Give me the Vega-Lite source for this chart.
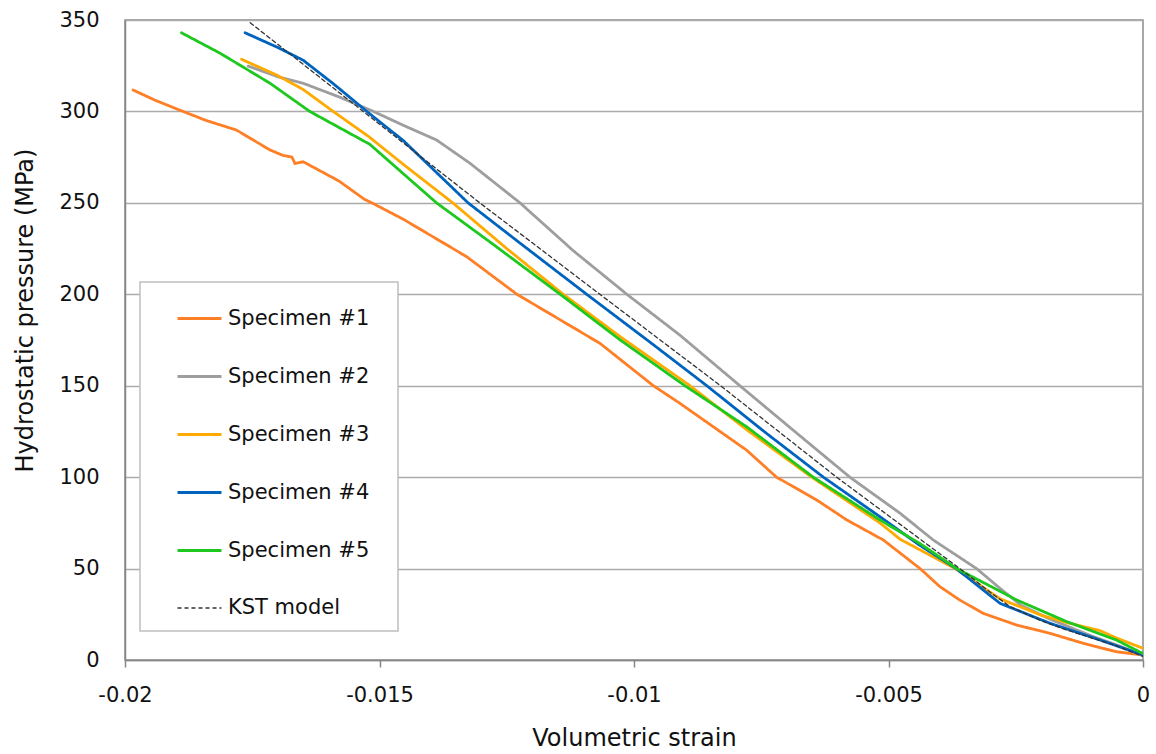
{
  "$schema": "https://vega.github.io/schema/vega-lite/v6.json",
  "autosize": "none",
  "width": 1018,
  "height": 640,
  "padding": {"left": 125, "top": 20, "right": 13, "bottom": 94},
  "background": "white",
  "config": {
    "view": {"stroke": "#8C8C8C", "strokeWidth": 1.5},
    "font": "DejaVu Sans",
    "legend": {
      "orient": "none",
      "legendX": 15,
      "legendY": 262,
      "fillColor": "white",
      "strokeColor": "#BFBFBF",
      "strokeWidth": 1.5,
      "padding": 13,
      "rowPadding": 24,
      "symbolType": "stroke",
      "symbolSize": 1936,
      "symbolStrokeWidth": 2.5,
      "symbolOffset": 23,
      "labelOffset": 5,
      "labelFont": "DejaVu Sans",
      "labelFontSize": 21,
      "labelColor": "#111111",
      "labelLimit": 400
    }
  },
  "data": {
    "values": [
      {"s": "Specimen #1", "x": -0.01984, "y": 311.7},
      {"s": "Specimen #1", "x": -0.0194, "y": 306},
      {"s": "Specimen #1", "x": -0.01886, "y": 300},
      {"s": "Specimen #1", "x": -0.0184, "y": 295},
      {"s": "Specimen #1", "x": -0.01781, "y": 289.8},
      {"s": "Specimen #1", "x": -0.01715, "y": 278.9},
      {"s": "Specimen #1", "x": -0.0169, "y": 276},
      {"s": "Specimen #1", "x": -0.01672, "y": 275},
      {"s": "Specimen #1", "x": -0.01666, "y": 271.5},
      {"s": "Specimen #1", "x": -0.0165, "y": 272.5},
      {"s": "Specimen #1", "x": -0.0158, "y": 262},
      {"s": "Specimen #1", "x": -0.0153, "y": 252},
      {"s": "Specimen #1", "x": -0.01515, "y": 250},
      {"s": "Specimen #1", "x": -0.01453, "y": 241},
      {"s": "Specimen #1", "x": -0.01329, "y": 220.6},
      {"s": "Specimen #1", "x": -0.0123, "y": 200},
      {"s": "Specimen #1", "x": -0.01067, "y": 173.2},
      {"s": "Specimen #1", "x": -0.00962, "y": 150},
      {"s": "Specimen #1", "x": -0.0091, "y": 140.4},
      {"s": "Specimen #1", "x": -0.00779, "y": 114.8},
      {"s": "Specimen #1", "x": -0.0072, "y": 100},
      {"s": "Specimen #1", "x": -0.00641, "y": 87.5},
      {"s": "Specimen #1", "x": -0.00582, "y": 76.6},
      {"s": "Specimen #1", "x": -0.0051, "y": 65.6},
      {"s": "Specimen #1", "x": -0.00438, "y": 50},
      {"s": "Specimen #1", "x": -0.00399, "y": 40.1},
      {"s": "Specimen #1", "x": -0.0036, "y": 32.8},
      {"s": "Specimen #1", "x": -0.00314, "y": 25.5},
      {"s": "Specimen #1", "x": -0.00248, "y": 19.1},
      {"s": "Specimen #1", "x": -0.00183, "y": 14.6},
      {"s": "Specimen #1", "x": -0.00117, "y": 9.1},
      {"s": "Specimen #1", "x": -0.00052, "y": 4.5},
      {"s": "Specimen #1", "x": 0, "y": 2.7},

      {"s": "Specimen #2", "x": -0.01758, "y": 324.8},
      {"s": "Specimen #2", "x": -0.017, "y": 319},
      {"s": "Specimen #2", "x": -0.0165, "y": 315.4},
      {"s": "Specimen #2", "x": -0.0158, "y": 308},
      {"s": "Specimen #2", "x": -0.01512, "y": 300},
      {"s": "Specimen #2", "x": -0.0145, "y": 292},
      {"s": "Specimen #2", "x": -0.01388, "y": 284.4},
      {"s": "Specimen #2", "x": -0.01322, "y": 271.6},
      {"s": "Specimen #2", "x": -0.01224, "y": 250},
      {"s": "Specimen #2", "x": -0.0112, "y": 224},
      {"s": "Specimen #2", "x": -0.01014, "y": 200},
      {"s": "Specimen #2", "x": -0.0091, "y": 177.7},
      {"s": "Specimen #2", "x": -0.00792, "y": 150},
      {"s": "Specimen #2", "x": -0.0068, "y": 124},
      {"s": "Specimen #2", "x": -0.00576, "y": 100},
      {"s": "Specimen #2", "x": -0.00477, "y": 80.2},
      {"s": "Specimen #2", "x": -0.00412, "y": 65.6},
      {"s": "Specimen #2", "x": -0.00327, "y": 50},
      {"s": "Specimen #2", "x": -0.00281, "y": 39.2},
      {"s": "Specimen #2", "x": -0.0024, "y": 30},
      {"s": "Specimen #2", "x": -0.0018, "y": 22},
      {"s": "Specimen #2", "x": -0.001, "y": 13},
      {"s": "Specimen #2", "x": -0.0004, "y": 7},
      {"s": "Specimen #2", "x": 0, "y": 2.5},

      {"s": "Specimen #3", "x": -0.01771, "y": 328.5},
      {"s": "Specimen #3", "x": -0.01702, "y": 319.9},
      {"s": "Specimen #3", "x": -0.0165, "y": 312},
      {"s": "Specimen #3", "x": -0.01591, "y": 300},
      {"s": "Specimen #3", "x": -0.0152, "y": 286},
      {"s": "Specimen #3", "x": -0.01453, "y": 271},
      {"s": "Specimen #3", "x": -0.01356, "y": 250},
      {"s": "Specimen #3", "x": -0.0125, "y": 225},
      {"s": "Specimen #3", "x": -0.01139, "y": 200},
      {"s": "Specimen #3", "x": -0.01027, "y": 176.8},
      {"s": "Specimen #3", "x": -0.0089, "y": 150},
      {"s": "Specimen #3", "x": -0.00779, "y": 126},
      {"s": "Specimen #3", "x": -0.00651, "y": 100},
      {"s": "Specimen #3", "x": -0.00517, "y": 75},
      {"s": "Specimen #3", "x": -0.00477, "y": 66},
      {"s": "Specimen #3", "x": -0.00369, "y": 50},
      {"s": "Specimen #3", "x": -0.00281, "y": 33.5},
      {"s": "Specimen #3", "x": -0.002, "y": 24.5},
      {"s": "Specimen #3", "x": -0.0015, "y": 20.5},
      {"s": "Specimen #3", "x": -0.00084, "y": 16},
      {"s": "Specimen #3", "x": -0.00052, "y": 12},
      {"s": "Specimen #3", "x": 0, "y": 6.4},

      {"s": "Specimen #4", "x": -0.01764, "y": 343},
      {"s": "Specimen #4", "x": -0.017, "y": 335},
      {"s": "Specimen #4", "x": -0.0165, "y": 328},
      {"s": "Specimen #4", "x": -0.0159, "y": 315},
      {"s": "Specimen #4", "x": -0.01525, "y": 300},
      {"s": "Specimen #4", "x": -0.01453, "y": 284},
      {"s": "Specimen #4", "x": -0.01326, "y": 250},
      {"s": "Specimen #4", "x": -0.01224, "y": 228},
      {"s": "Specimen #4", "x": -0.01093, "y": 200},
      {"s": "Specimen #4", "x": -0.0096, "y": 172},
      {"s": "Specimen #4", "x": -0.00857, "y": 150},
      {"s": "Specimen #4", "x": -0.0074, "y": 124},
      {"s": "Specimen #4", "x": -0.00628, "y": 100},
      {"s": "Specimen #4", "x": -0.00517, "y": 78.4},
      {"s": "Specimen #4", "x": -0.0044, "y": 63},
      {"s": "Specimen #4", "x": -0.00367, "y": 50},
      {"s": "Specimen #4", "x": -0.00281, "y": 31},
      {"s": "Specimen #4", "x": -0.00183, "y": 20.1},
      {"s": "Specimen #4", "x": -0.00084, "y": 10.9},
      {"s": "Specimen #4", "x": 0, "y": 2.7},

      {"s": "Specimen #5", "x": -0.01889, "y": 343},
      {"s": "Specimen #5", "x": -0.01813, "y": 331.8},
      {"s": "Specimen #5", "x": -0.01715, "y": 315.4},
      {"s": "Specimen #5", "x": -0.01637, "y": 300},
      {"s": "Specimen #5", "x": -0.01519, "y": 282},
      {"s": "Specimen #5", "x": -0.01388, "y": 250},
      {"s": "Specimen #5", "x": -0.0128, "y": 228},
      {"s": "Specimen #5", "x": -0.01145, "y": 200},
      {"s": "Specimen #5", "x": -0.01027, "y": 175},
      {"s": "Specimen #5", "x": -0.009, "y": 150},
      {"s": "Specimen #5", "x": -0.00779, "y": 127.6},
      {"s": "Specimen #5", "x": -0.00648, "y": 100},
      {"s": "Specimen #5", "x": -0.00517, "y": 76.6},
      {"s": "Specimen #5", "x": -0.0044, "y": 64},
      {"s": "Specimen #5", "x": -0.00366, "y": 50},
      {"s": "Specimen #5", "x": -0.00248, "y": 32.8},
      {"s": "Specimen #5", "x": -0.0015, "y": 21},
      {"s": "Specimen #5", "x": -0.00052, "y": 10.9},
      {"s": "Specimen #5", "x": 0, "y": 3.5},

      {"s": "KST model", "x": -0.01754, "y": 348.5},
      {"s": "KST model", "x": -0.01532, "y": 300},
      {"s": "KST model", "x": -0.01303, "y": 250},
      {"s": "KST model", "x": -0.01067, "y": 200},
      {"s": "KST model", "x": -0.0083, "y": 150},
      {"s": "KST model", "x": -0.00602, "y": 100},
      {"s": "KST model", "x": -0.0036, "y": 50},
      {"s": "KST model", "x": -0.003, "y": 37},
      {"s": "KST model", "x": -0.0026, "y": 29},
      {"s": "KST model", "x": -0.002, "y": 21.5},
      {"s": "KST model", "x": -0.0015, "y": 16.4},
      {"s": "KST model", "x": -0.001, "y": 12},
      {"s": "KST model", "x": -0.0005, "y": 7.5},
      {"s": "KST model", "x": 0, "y": 2}
    ]
  },
  "mark": {"type": "line", "clip": true, "strokeJoin": "round", "strokeCap": "round"},
  "encoding": {
    "x": {
      "field": "x",
      "type": "quantitative",
      "scale": {"domain": [-0.02, 0], "nice": false, "zero": false},
      "axis": {
        "values": [-0.02, -0.015, -0.01, -0.005, 0],
        "labelExpr": "datum.value == 0 ? '0' : '-' + format(-datum.value, '~g')",
        "grid": false,
        "domainColor": "#868686",
        "domainWidth": 1.5,
        "ticks": true,
        "tickSize": 7,
        "tickColor": "#868686",
        "tickWidth": 1.5,
        "labelFont": "DejaVu Sans",
        "labelFontSize": 21,
        "labelColor": "#111111",
        "labelPadding": 17,
        "labelFlush": false,
        "title": "Volumetric strain",
        "titleFont": "DejaVu Sans",
        "titleFontSize": 24,
        "titleFontWeight": "normal",
        "titleColor": "#111111",
        "titleBaseline": "alphabetic",
        "titleY": 85
      }
    },
    "y": {
      "field": "y",
      "type": "quantitative",
      "scale": {"domain": [0, 350], "nice": false},
      "axis": {
        "values": [0, 50, 100, 150, 200, 250, 300, 350],
        "grid": true,
        "gridColor": "#ABABAB",
        "gridWidth": 1.5,
        "domainColor": "#868686",
        "domainWidth": 1.5,
        "ticks": false,
        "tickSize": 0,
        "labelFont": "DejaVu Sans",
        "labelFontSize": 21,
        "labelColor": "#111111",
        "labelPadding": 26,
        "labelFlush": false,
        "title": "Hydrostatic pressure (MPa)",
        "titleFont": "DejaVu Sans",
        "titleFontSize": 24,
        "titleFontWeight": "normal",
        "titleColor": "#111111",
        "titleX": -88,
        "titleY": 290
      }
    },
    "color": {
      "field": "s",
      "type": "nominal",
      "scale": {
        "domain": ["Specimen #1", "Specimen #2", "Specimen #3", "Specimen #4", "Specimen #5", "KST model"],
        "range": ["#FF7F27", "#9E9E9E", "#FFAA00", "#0064BE", "#1EC81E", "#333333"]
      },
      "legend": {"title": null, "labelExpr": "datum.label + '\u2800'"}
    },
    "strokeDash": {
      "field": "s",
      "type": "nominal",
      "scale": {
        "domain": ["Specimen #1", "Specimen #2", "Specimen #3", "Specimen #4", "Specimen #5", "KST model"],
        "range": [[1, 0], [1, 0], [1, 0], [1, 0], [1, 0], [4, 3]]
      },
      "legend": {"title": null, "labelExpr": "datum.label + '\u2800'"}
    },
    "strokeWidth": {
      "field": "s",
      "type": "nominal",
      "scale": {
        "type": "ordinal",
        "domain": ["Specimen #1", "Specimen #2", "Specimen #3", "Specimen #4", "Specimen #5", "KST model"],
        "range": [2.8, 2.8, 2.8, 2.8, 2.8, 1.3]
      },
      "legend": null
    }
  }
}
